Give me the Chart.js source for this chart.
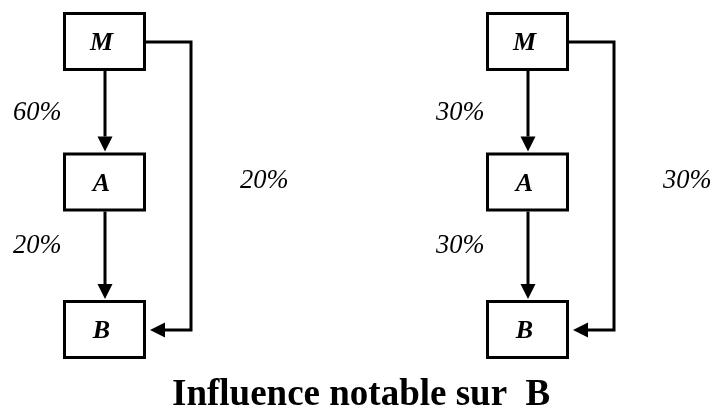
<!DOCTYPE html>
<html><head><meta charset="utf-8">
<style>html,body{margin:0;padding:0;background:#fff;} #wrap{width:715px;height:410px;}</style>
<script src="https://cdn.jsdelivr.net/npm/chart.js@4/dist/chart.umd.min.js"></script>
</head><body><div id="wrap"><canvas id="c" width="715" height="410"></canvas></div>
<script>
// ---- data ----
const nodes = ['M', 'A', 'B'];
const shareMtoA = [60, 30];   // % M -> A, per panel
const shareAtoB = [20, 30];   // % A -> B, per panel
const shareMtoB = [20, 30];   // % M -> B (direct), per panel
const titleText = 'Influence notable sur  B';

// ---- layout (scale units == canvas pixels) ----
const panelX = [104.5, 527.5];
const nodeY = [41.5, 182, 329.5];
const boxHalfW = 40, boxHalfH = 28;
const connOffset = 86.5;
const headLen = 15, headHalf = 7.5;
const serif = '"Liberation Serif", "Times New Roman", serif';

const datasets = [];
const line = pts => ({ data: pts, showLine: true, borderColor: '#000', borderWidth: 3,
  pointRadius: 0, borderJoinStyle: 'miter', borderCapStyle: 'butt', tension: 0, fill: false });

const arrows = [];
panelX.forEach((cx, p) => {
  nodeY.forEach(ny => {
    datasets.push(line([
      {x: cx - boxHalfW, y: ny - boxHalfH}, {x: cx + boxHalfW, y: ny - boxHalfH},
      {x: cx + boxHalfW, y: ny + boxHalfH}, {x: cx - boxHalfW, y: ny + boxHalfH},
      {x: cx - boxHalfW, y: ny - boxHalfH - 1.5}
    ]));
  });
  // M -> A
  const mBot = nodeY[0] + boxHalfH + 1.5, aTop = nodeY[1] - boxHalfH - 1.5;
  datasets.push(line([{x: cx + 0.5, y: mBot}, {x: cx + 0.5, y: aTop - 2 - headLen + 1}]));
  arrows.push({x: cx + 0.5, y: aTop - 1, dir: 'down'});
  // A -> B
  const aBot = nodeY[1] + boxHalfH + 1.5, bTop = nodeY[2] - boxHalfH - 1.5;
  datasets.push(line([{x: cx + 0.5, y: aBot}, {x: cx + 0.5, y: bTop - 2 - headLen + 1}]));
  arrows.push({x: cx + 0.5, y: bTop - 1, dir: 'down'});
  // M -> B direct
  const right = cx + boxHalfW + 1.5;
  datasets.push(line([
    {x: right, y: nodeY[0] + 0.5}, {x: cx + connOffset, y: nodeY[0] + 0.5},
    {x: cx + connOffset, y: nodeY[2] + 0.5}, {x: right + 4 + headLen - 1, y: nodeY[2] + 0.5}
  ]));
  arrows.push({x: right + 4, y: nodeY[2] + 0.5, dir: 'left'});
});

const labels = [];
panelX.forEach((cx, p) => {
  labels.push({x: cx - 91.5, y: 120, t: shareMtoA[p] + '%'});
  labels.push({x: cx - 91.5, y: 253, t: shareAtoB[p] + '%'});
  labels.push({x: cx + 135.5, y: 187.5, t: shareMtoB[p] + '%'});
});

const diagramPlugin = {
  id: 'diagram',
  afterDatasetsDraw(chart) {
    const ctx = chart.ctx, xs = chart.scales.x, ys = chart.scales.y;
    const X = v => xs.getPixelForValue(v), Y = v => ys.getPixelForValue(v);
    ctx.save();
    ctx.fillStyle = '#000';
    arrows.forEach(a => {
      ctx.beginPath();
      if (a.dir === 'down') {
        ctx.moveTo(X(a.x), Y(a.y));
        ctx.lineTo(X(a.x - headHalf), Y(a.y - headLen));
        ctx.lineTo(X(a.x + headHalf), Y(a.y - headLen));
      } else {
        ctx.moveTo(X(a.x), Y(a.y));
        ctx.lineTo(X(a.x + headLen), Y(a.y - headHalf));
        ctx.lineTo(X(a.x + headLen), Y(a.y + headHalf));
      }
      ctx.closePath();
      ctx.fill();
    });
    ctx.font = 'bold italic 26px ' + serif;
    ctx.textAlign = 'center';
    ctx.textBaseline = 'alphabetic';
    panelX.forEach(cx => {
      nodes.forEach((n, i) => ctx.fillText(n, X(cx - 3), Y(nodeY[i] + 8.5)));
    });
    ctx.font = 'italic 26.5px ' + serif;
    ctx.textAlign = 'left';
    labels.forEach(l => ctx.fillText(l.t, X(l.x), Y(l.y)));
    ctx.font = 'bold 37px ' + serif;
    ctx.fillText(titleText, X(172), Y(405));
    ctx.restore();
  }
};

new Chart(document.getElementById('c'), {
  type: 'scatter',
  data: { datasets },
  options: {
    responsive: false, animation: false, devicePixelRatio: 1,
    layout: { padding: 0 },
    scales: {
      x: { type: 'linear', min: 0, max: 715, display: false },
      y: { type: 'linear', min: 0, max: 410, reverse: true, display: false }
    },
    plugins: { legend: { display: false }, tooltip: { enabled: false }, title: { display: false } }
  },
  plugins: [diagramPlugin]
});
</script></body></html>
